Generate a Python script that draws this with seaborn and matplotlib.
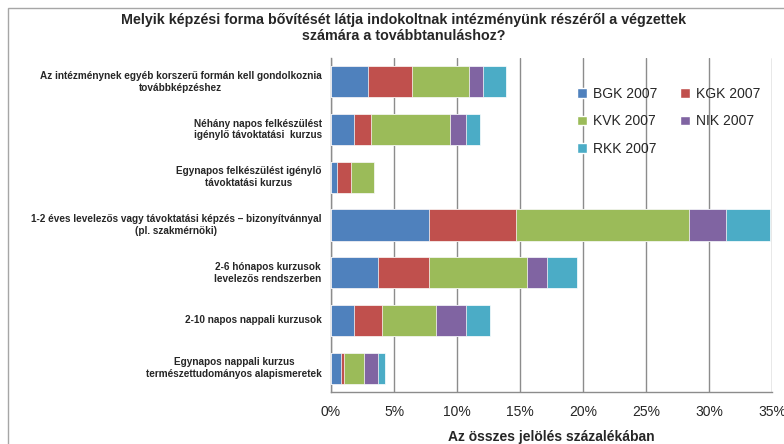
import numpy as np
import pandas as pd
import matplotlib
matplotlib.use('Agg')
import matplotlib.pyplot as plt
import seaborn as sns
from matplotlib.patches import Patch, Rectangle

# categories, top to bottom
categories = [
    'Az intézménynek egyéb korszerű formán kell gondolkoznia\ntovábbképzéshez',
    'Néhány napos felkészülést\nigénylő távoktatási  kurzus',
    'Egynapos felkészülést igénylő\ntávoktatási kurzus',
    '1-2 éves levelezős vagy távoktatási képzés – bizonyítvánnyal\n(pl. szakmérnöki)',
    '2-6 hónapos kurzusok\nlevelezős rendszerben',
    '2-10 napos nappali kurzusok',
    'Egynapos nappali kurzus\ntermészettudományos alapismeretek',
]

# percent values per faculty
bgk = [2.97, 1.86, 0.50, 7.74, 3.76, 1.86, 0.82]
kgk = [3.47, 1.35, 1.11, 6.97, 3.98, 2.15, 0.21]
kvk = [4.53, 6.20, 1.83, 13.68, 7.79, 4.30, 1.62]
nik = [1.06, 1.27, 0.00, 2.97, 1.59, 2.39, 1.11]
rkk = [1.88, 1.11, 0.00, 3.50, 2.44, 1.91, 0.53]

series = ['BGK 2007', 'KGK 2007', 'KVK 2007', 'NIK 2007', 'RKK 2007']
colors = ['#4F81BD', '#C0504D', '#9BBB59', '#8064A2', '#4BACC6']
x_ticks = [0, 5, 10, 15, 20, 25, 30, 35]

df = pd.DataFrame({'kat': categories, 'BGK 2007': bgk, 'KGK 2007': kgk,
                   'KVK 2007': kvk, 'NIK 2007': nik, 'RKK 2007': rkk})

# cumulative sums for stacking
cum = df[series].cumsum(axis=1)

sns.set_style('white')
plt.rcParams['font.family'] = ['Liberation Sans', 'DejaVu Sans']

fig = plt.figure(figsize=(7.84, 4.44), dpi=100)
ax = fig.add_axes([0.4222, 0.1171, 0.5625, 0.7523])

# draw longest stack first so the shorter ones sit on top
for s, c in reversed(list(zip(series, colors))):
    sns.barplot(x=cum[s], y=df['kat'], color=c, orient='h', width=0.65, saturation=1,
                edgecolor='white', linewidth=0.5, ax=ax, zorder=3)

ax.set_xlim(0, 35)
ax.set_xticks(x_ticks)
ax.set_xticklabels([f'{t}%' for t in x_ticks], fontsize=10)
ax.xaxis.grid(True, color='#8c8c8c', linewidth=1)
ax.set_axisbelow(True)
ax.tick_params(axis='x', length=0, pad=9)

# category labels: right aligned block, centred lines
ax.set_yticks(range(len(categories)))
ax.set_yticklabels([])
ax.tick_params(axis='y', length=0)
for i, cat in enumerate(categories):
    ax.text(-0.021, i, cat, transform=ax.get_yaxis_transform(), ha='right', va='center',
            multialignment='center', fontsize=7.2, fontweight='bold')

for sp in ['top', 'right']:
    ax.spines[sp].set_visible(False)
for sp in ['left', 'bottom']:
    ax.spines[sp].set_color('#8c8c8c')
    ax.spines[sp].set_linewidth(1)

ax.set_ylabel('')
ax.set_xlabel('Az összes jelölés százalékában', fontsize=10, fontweight='bold', labelpad=8)

# legend filled row by row like the original
handles = [Patch(facecolor=c, label=s) for s, c in zip(series, colors)]
order = [0, 2, 4, 1, 3]
ax.legend(handles=[handles[i] for i in order], ncol=2, loc='upper left', bbox_to_anchor=(0.53, 0.95),
          frameon=False, fontsize=10, handlelength=0.7, handleheight=0.7,
          handletextpad=0.4, labelspacing=0.95, columnspacing=1.7)

fig.text(0.515, 0.937, 'Melyik képzési forma bővítését látja indokoltnak intézményünk részéről a végzettek\nszámára a továbbtanuláshoz?',
         ha='center', va='center', fontsize=10.3, fontweight='bold', multialignment='center')

# outer chart frame
fig.patches.append(Rectangle((8 / 784, -0.1), 1.2, 1 - 8 / 444 + 0.1, transform=fig.transFigure,
                             fill=False, edgecolor='#a6a6a6', linewidth=1))

fig.savefig('out.png', dpi=100)
